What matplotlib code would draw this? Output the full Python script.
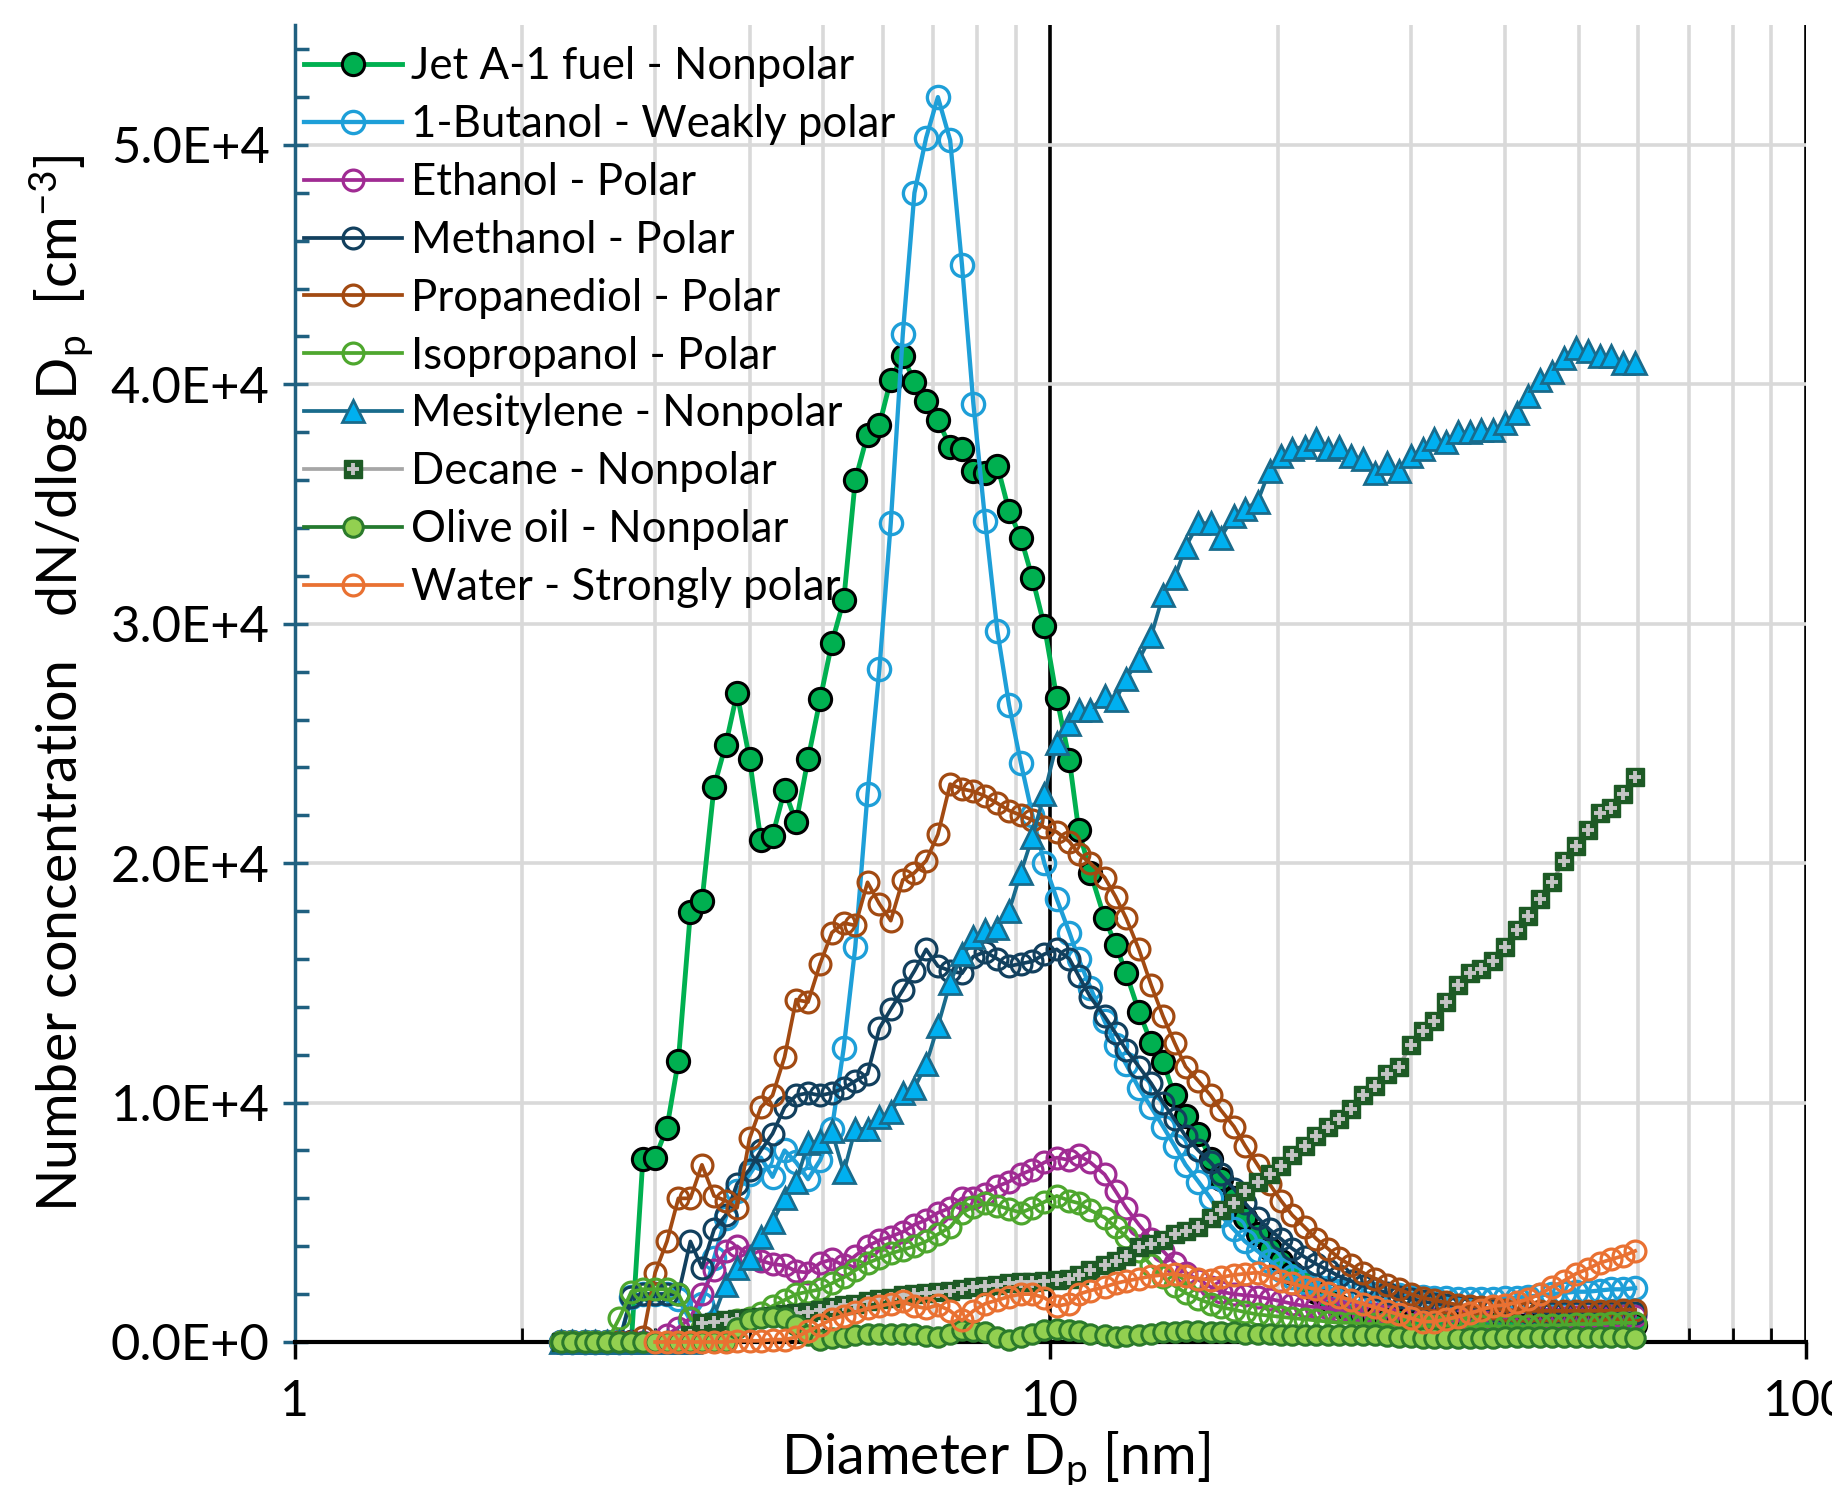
import numpy as np
import matplotlib
matplotlib.use("Agg")
import matplotlib.pyplot as plt
from matplotlib.ticker import MultipleLocator, FixedLocator, FuncFormatter, NullFormatter
from matplotlib.legend_handler import HandlerTuple

plt.rcParams['font.family'] = ['Lato', 'DejaVu Sans']
plt.rcParams['mathtext.default'] = 'regular'

# SMPS channel midpoints [nm]
diam = [2.25, 2.33, 2.42, 2.5, 2.59, 2.69, 2.79, 2.89, 3.0, 3.11, 3.22, 3.34, 3.46, 3.59,
        3.72, 3.85, 4.0, 4.14, 4.29, 4.45, 4.61, 4.78, 4.96, 5.14, 5.33, 5.52, 5.73, 5.94,
        6.15, 6.38, 6.61, 6.85, 7.1, 7.37, 7.64, 7.91, 8.2, 8.51, 8.82, 9.14, 9.47, 9.82,
        10.2, 10.6, 10.9, 11.3, 11.8, 12.2, 12.6, 13.1, 13.6, 14.1, 14.6, 15.1, 15.7, 16.3,
        16.8, 17.5, 18.1, 18.8, 19.5, 20.2, 20.9, 21.7, 22.5, 23.3, 24.1, 25.0, 25.9, 26.9,
        27.9, 28.9, 30.0, 31.1, 32.2, 33.4, 34.6, 35.9, 37.2, 38.5, 40.0, 41.4, 42.9, 44.5,
        46.1, 47.8, 49.6, 51.4, 53.3, 55.2, 57.3, 59.4]

# dN/dlogDp in thousands of cm^-3
jet = [0, 0, 0, 0, 0, 0, 0,
       7.65, 7.7, 8.95, 11.75, 17.95, 18.4, 23.2, 24.95, 27.1, 24.35,
       20.95, 21.15, 23.05, 21.7, 24.35, 26.85, 29.2, 31.0, 36.0, 37.9,
       38.3, 40.2, 41.2, 40.1, 39.3, 38.5, 37.4, 37.3, 36.4, 36.3,
       36.6, 34.7, 33.6, 31.9, 29.9, 26.9, 24.3, 21.4, 19.6, 17.7,
       16.6, 15.4, 13.8, 12.5, 11.7, 10.3, 9.45, 8.7, 7.65, 6.8,
       6.0, 5.2, 4.5, 3.9, 3.4, 2.9, 2.5, 2.1, 1.8, 1.5,
       1.3, 1.15, 1.0, 0.95, 0.9, 0.85, 0.8, 0.8, 0.75, 0.75,
       0.7, 0.7, 0.7, 0.7, 0.7, 0.7, 0.7, 0.7, 0.7, 0.7,
       0.7, 0.7, 0.7, 0.7, 0.7]
butanol = [0, 0, 0, 0, 0, 0,
           1.9, 2.0, 2.0, 2.0, 1.8, 0.9, 1.6, 3.5, 5.2, 6.3,
           7.0, 7.7, 6.9, 8.0, 7.5, 6.8, 7.6, 8.9, 12.3, 16.5,
           22.9, 28.1, 34.2, 42.1, 48.0, 50.3, 52.0, 50.2, 45.0, 39.2,
           34.3, 29.7, 26.6, 24.2, 22.0, 20.0, 18.5, 17.1, 16.0, 14.8,
           13.4, 12.4, 11.6, 10.6, 9.8, 9.0, 8.2, 7.4, 6.7, 6.0,
           5.3, 4.7, 4.2, 3.8, 3.4, 3.0, 2.7, 2.5, 2.35, 2.25,
           2.15, 2.1, 2.05, 2.0, 1.95, 1.95, 1.9, 1.9, 1.85, 1.85,
           1.8, 1.8, 1.8, 1.8, 1.85, 1.85, 1.9, 1.95, 2.0, 2.05,
           2.1, 2.1, 2.15, 2.2, 2.2, 2.25]
ethanol = [0, 0, 0, 0, 0, 0, 0, 0, 0,
           0.3, 0.6, 1.0, 2.0, 3.0, 3.8, 4.0, 3.6, 3.4, 3.25,
           3.2, 2.95, 2.9, 3.3, 3.45, 3.2, 3.6, 4.0, 4.25, 4.4,
           4.6, 4.9, 5.1, 5.4, 5.6, 6.0, 6.0, 6.2, 6.5, 6.7,
           7.0, 7.2, 7.5, 7.7, 7.6, 7.8, 7.5, 7.0, 6.3, 5.6,
           4.9, 4.3, 3.8, 3.3, 2.9, 2.6, 2.3, 2.1, 2.0, 1.95,
           1.9, 1.8, 1.7, 1.6, 1.5, 1.45, 1.4, 1.3, 1.25, 1.2,
           1.15, 1.1, 1.05, 1.0, 0.95, 0.95, 0.9, 0.9, 0.9, 0.9,
           0.9, 0.9, 0.95, 0.95, 1.0, 1.0, 1.0, 1.05, 1.05, 1.1,
           1.1, 1.1, 1.1]
methanol = [0, 0, 0, 0, 0, 0,
            1.9, 2.0, 2.0, 2.0, 2.0, 4.2, 3.1, 4.7, 5.3, 6.6,
            7.2, 8.0, 8.7, 9.8, 10.3, 10.4, 10.3, 10.4, 10.6, 10.9,
            11.2, 13.1, 13.9, 14.7, 15.5, 16.4, 15.7, 15.5, 15.4, 16.1,
            16.3, 16.0, 15.7, 15.8, 15.9, 16.2, 16.4, 16.0, 15.3, 14.4,
            13.6, 12.9, 12.2, 11.5, 10.8, 10.0, 9.3, 8.6, 8.0, 7.5,
            7.0, 6.4, 5.8, 5.2, 4.7, 4.3, 3.9, 3.55, 3.25, 3.0,
            2.75, 2.55, 2.35, 2.2, 2.05, 1.9, 1.8, 1.7, 1.6, 1.55,
            1.5, 1.45, 1.4, 1.35, 1.3, 1.3, 1.25, 1.25, 1.2, 1.2,
            1.2, 1.2, 1.2, 1.2, 1.2, 1.2]
propanediol = [0, 0, 0, 0, 0, 0, 0,
               0.2, 2.9, 4.2, 6.0, 6.0, 7.4, 6.1, 5.9, 5.6, 8.5,
               9.8, 10.3, 11.9, 14.3, 14.2, 15.8, 17.1, 17.5, 17.4, 19.2,
               18.3, 17.6, 19.3, 19.6, 20.1, 21.2, 23.3, 23.1, 23.0, 22.8,
               22.5, 22.2, 22.0, 21.8, 21.5, 21.3, 20.9, 20.4, 20.0, 19.4,
               18.6, 17.7, 16.4, 14.9, 13.6, 12.5, 11.5, 10.9, 10.3, 9.7,
               9.0, 8.2, 7.4, 6.6, 5.9, 5.3, 4.8, 4.3, 3.9, 3.5,
               3.2, 2.9, 2.65, 2.4, 2.2, 2.0, 1.85, 1.75, 1.65, 1.55,
               1.5, 1.45, 1.4, 1.35, 1.3, 1.3, 1.3, 1.3, 1.3, 1.3,
               1.3, 1.3, 1.3, 1.35, 1.35]
isopropanol = [0, 0, 0, 0, 0,
               1.0, 2.1, 2.2, 2.2, 2.2, 2.0, 1.0, 0.6, 0.7, 0.8,
               0.9, 1.0, 1.2, 1.5, 1.75, 2.0, 2.1, 2.2, 2.45, 2.7,
               3.0, 3.3, 3.5, 3.7, 3.85, 4.0, 4.2, 4.5, 4.8, 5.4,
               5.65, 5.8, 5.7, 5.55, 5.4, 5.6, 5.85, 6.1, 5.9, 5.8,
               5.5, 5.2, 4.8, 4.4, 3.8, 3.2, 2.7, 2.35, 2.05, 1.8,
               1.6, 1.45, 1.35, 1.25, 1.15, 1.1, 1.05, 1.0, 0.95, 0.9,
               0.85, 0.8, 0.8, 0.75, 0.75, 0.7, 0.7, 0.7, 0.65, 0.65,
               0.65, 0.65, 0.65, 0.65, 0.65, 0.65, 0.65, 0.65, 0.7, 0.7,
               0.7, 0.75, 0.75, 0.75, 0.8, 0.8, 0.8]
mesitylene = [0, 0, 0, 0, 0, 0, 0, 0, 0, 0, 0, 0,
              0.4, 1.1, 2.4, 3.1, 3.5, 4.4, 5.0, 6.0, 6.7, 8.3,
              8.4, 8.8, 7.1, 8.9, 8.9, 9.4, 9.6, 10.4, 10.6, 11.6,
              13.2, 15.0, 16.2, 16.9, 17.2, 17.3, 18.0, 19.6, 21.1, 22.9,
              25.0, 25.8, 26.4, 26.4, 27.0, 26.8, 27.7, 28.5, 29.5, 31.2,
              31.9, 33.2, 34.2, 34.2, 33.6, 34.5, 34.8, 35.1, 36.4, 37.0,
              37.3, 37.4, 37.7, 37.3, 37.4, 37.0, 36.9, 36.3, 36.7, 36.4,
              37.0, 37.3, 37.7, 37.6, 38.0, 38.0, 38.1, 38.1, 38.4, 38.8,
              39.5, 40.2, 40.5, 41.1, 41.5, 41.4, 41.2, 41.2, 40.9, 40.9]
decane = [0, 0, 0, 0, 0, 0, 0, 0, 0, 0, 0,
          0.3, 0.8, 0.85, 0.9, 0.95, 1.0, 1.05, 1.1, 1.15, 1.2,
          1.25, 1.35, 1.45, 1.55, 1.6, 1.7, 1.8, 1.85, 1.95, 2.0,
          2.05, 2.1, 2.15, 2.2, 2.3, 2.35, 2.4, 2.45, 2.5, 2.5,
          2.55, 2.6, 2.65, 2.8, 3.0, 3.2, 3.4, 3.6, 3.95, 4.1,
          4.25, 4.5, 4.65, 4.8, 5.2, 5.5, 5.8, 6.3, 6.7, 7.0,
          7.35, 7.8, 8.2, 8.6, 9.0, 9.3, 9.75, 10.3, 10.7, 11.2,
          11.5, 12.4, 13.0, 13.4, 14.2, 14.9, 15.4, 15.6, 15.9, 16.5,
          17.2, 17.8, 18.5, 19.2, 20.1, 20.7, 21.4, 22.1, 22.3, 22.9,
          23.6]
olive = [0, 0, 0, 0, 0, 0, 0, 0, 0, 0, 0, 0, 0, 0, 0,
         0.6, 0.9, 1.0, 1.05, 1.0, 0.7, 0.3, 0.1, 0.15, 0.2,
         0.3, 0.35, 0.35, 0.35, 0.35, 0.35, 0.25, 0.2, 0.35, 0.5,
         0.45, 0.4, 0.2, 0.1, 0.2, 0.35, 0.5, 0.55, 0.5, 0.45,
         0.35, 0.3, 0.22, 0.25, 0.3, 0.35, 0.4, 0.4, 0.45, 0.45,
         0.4, 0.4, 0.4, 0.35, 0.35, 0.35, 0.3, 0.3, 0.3, 0.3,
         0.3, 0.3, 0.3, 0.3, 0.3, 0.25, 0.2, 0.2, 0.15, 0.15,
         0.15, 0.15, 0.15, 0.15, 0.15, 0.2, 0.2, 0.2, 0.2, 0.2,
         0.2, 0.2, 0.2, 0.2, 0.2, 0.2, 0.15]
water = [np.nan] * 8 + [
         0, 0, 0, 0, 0, 0, 0, 0.05, 0.05, 0.05,
         0.1, 0.1, 0.2, 0.45, 0.7, 0.95, 1.1, 1.25, 1.4, 1.5,
         1.6, 1.7, 1.5, 1.4, 1.55, 1.3, 0.9, 1.3, 1.6, 1.75,
         1.9, 2.0, 2.0, 1.85, 1.5, 1.6, 2.0, 2.15, 2.3, 2.45,
         2.55, 2.65, 2.75, 2.8, 2.85, 2.75, 2.65, 2.6, 2.7, 2.8,
         2.85, 2.9, 2.75, 2.55, 2.45, 2.3, 2.2, 2.05, 1.9, 1.75,
         1.6, 1.45, 1.3, 1.15, 1.0, 0.85, 0.85, 0.95, 1.05, 1.2,
         1.35, 1.5, 1.55, 1.65, 1.8, 2.0, 2.3, 2.55, 2.85, 3.05,
         3.3, 3.45, 3.6, 3.8]

labels = ['Jet A-1 fuel - Nonpolar', '1-Butanol - Weakly polar', 'Ethanol - Polar',
          'Methanol - Polar', 'Propanediol - Polar', 'Isopropanol - Polar',
          'Mesitylene - Nonpolar', 'Decane - Nonpolar', 'Olive oil - Nonpolar',
          'Water - Strongly polar']

x = np.array(diam)
k = 1000.0

fig = plt.figure(figsize=(18.33, 14.85), dpi=100)
ax = fig.add_axes([0.1607, 0.0963, 0.8246, 0.8867])
ax.set_xscale('log')
ax.set_xlim(1, 100)
ax.set_ylim(0, 55000)

grey = '#d9d9d9'
ax.grid(which='minor', axis='x', color=grey, lw=2.6)
ax.grid(which='major', axis='x', color='black', lw=2.6)
ax.grid(which='major', axis='y', color=grey, lw=2.6)
ax.set_axisbelow(True)

common = dict(clip_on=False, zorder=3)
handles = []

h, = ax.plot(x, np.array(jet) * k, color='#00b050', lw=3.5, marker='o', ms=16,
             mfc='#00b050', mec='black', mew=2.2, **common)
handles.append(h)
h, = ax.plot(x, np.array(butanol) * k, color='#1e9fd8', lw=3.1, marker='o', ms=16,
             mfc='none', mec='#1e9fd8', mew=2.4, **common)
handles.append(h)
for vals, col in [(ethanol, '#a02b93'), (methanol, '#12405e'),
                  (propanediol, '#a24a12'), (isopropanol, '#4ea72e')]:
    h, = ax.plot(x, np.array(vals) * k, color=col, lw=2.7, marker='o', ms=15,
                 mfc='none', mec=col, mew=2.3, **common)
    handles.append(h)
h, = ax.plot(x, np.array(mesitylene) * k, color='#196b8c', lw=2.7, marker='^', ms=16,
             mfc='#00b0f0', mec='#196b8c', mew=2, **common)
handles.append(h)
h1, = ax.plot(x, np.array(decane) * k, color='#a6a6a6', lw=2.7, marker='s', ms=12.5,
              mfc='#1d5a25', mec='#1d5a25', mew=1, **common)
h2, = ax.plot(x, np.array(decane) * k, ls='none', marker='+', ms=8, mew=2.8,
              color='#c4c4c4', **common)
handles.append((h1, h2))
h, = ax.plot(x, np.array(olive) * k, color='#247a2e', lw=2.7, marker='o', ms=14,
             mfc='#92d050', mec='#2b7a2b', mew=2.2, **common)
handles.append(h)
h, = ax.plot(x, np.array(water) * k, color='#e97132', lw=2.7, marker='o', ms=15,
             mfc='none', mec='#e97132', mew=2.3, **common)
handles.append(h)

# axes styling
for s in ['top', 'right']:
    ax.spines[s].set_visible(False)
ax.spines['left'].set_color('#1f6080')
ax.spines['left'].set_linewidth(2.5)
ax.spines['bottom'].set_color('black')
ax.spines['bottom'].set_linewidth(3)

ax.yaxis.set_major_locator(MultipleLocator(10000))
ax.yaxis.set_minor_locator(MultipleLocator(2000))
ax.yaxis.set_major_formatter(FuncFormatter(
    lambda v, p: '0.0E+0' if v == 0 else f'{v / 1e4:.1f}E+4'))
ax.tick_params(axis='y', which='major', direction='inout', length=18, width=2.5,
               color='#1f6080', labelsize=36.5, pad=9)
ax.tick_params(axis='y', which='minor', direction='in', length=10, width=2.5,
               color='#1f6080')
ax.xaxis.set_major_locator(FixedLocator([1, 10, 100]))
ax.xaxis.set_major_formatter(FuncFormatter(lambda v, p: f'{v:g}'))
ax.xaxis.set_minor_formatter(NullFormatter())
ax.tick_params(axis='x', which='major', direction='out', length=12, width=2.5,
               labelsize=36, pad=15)
ax.tick_params(axis='x', which='minor', direction='in', length=10, width=2)

ax.set_ylabel('Number concentration   dN/dlog D$_p$  [cm$^{-3}$]', fontsize=40)
ax.yaxis.set_label_coords(-0.132, 0.5)
ax.set_xlabel('Diameter D$_p$ [nm]', fontsize=40, va='top')
ax.xaxis.set_label_coords(0.464, -0.066)

ax.legend(handles, labels, loc='upper left', bbox_to_anchor=(0.006, 0.984),
          frameon=False, fontsize=31.5, handlelength=2.25, handletextpad=0.2,
          labelspacing=0.385, borderpad=0, borderaxespad=0, numpoints=1,
          handler_map={tuple: HandlerTuple(ndivide=1)})

fig.savefig('out.png', dpi=100)
